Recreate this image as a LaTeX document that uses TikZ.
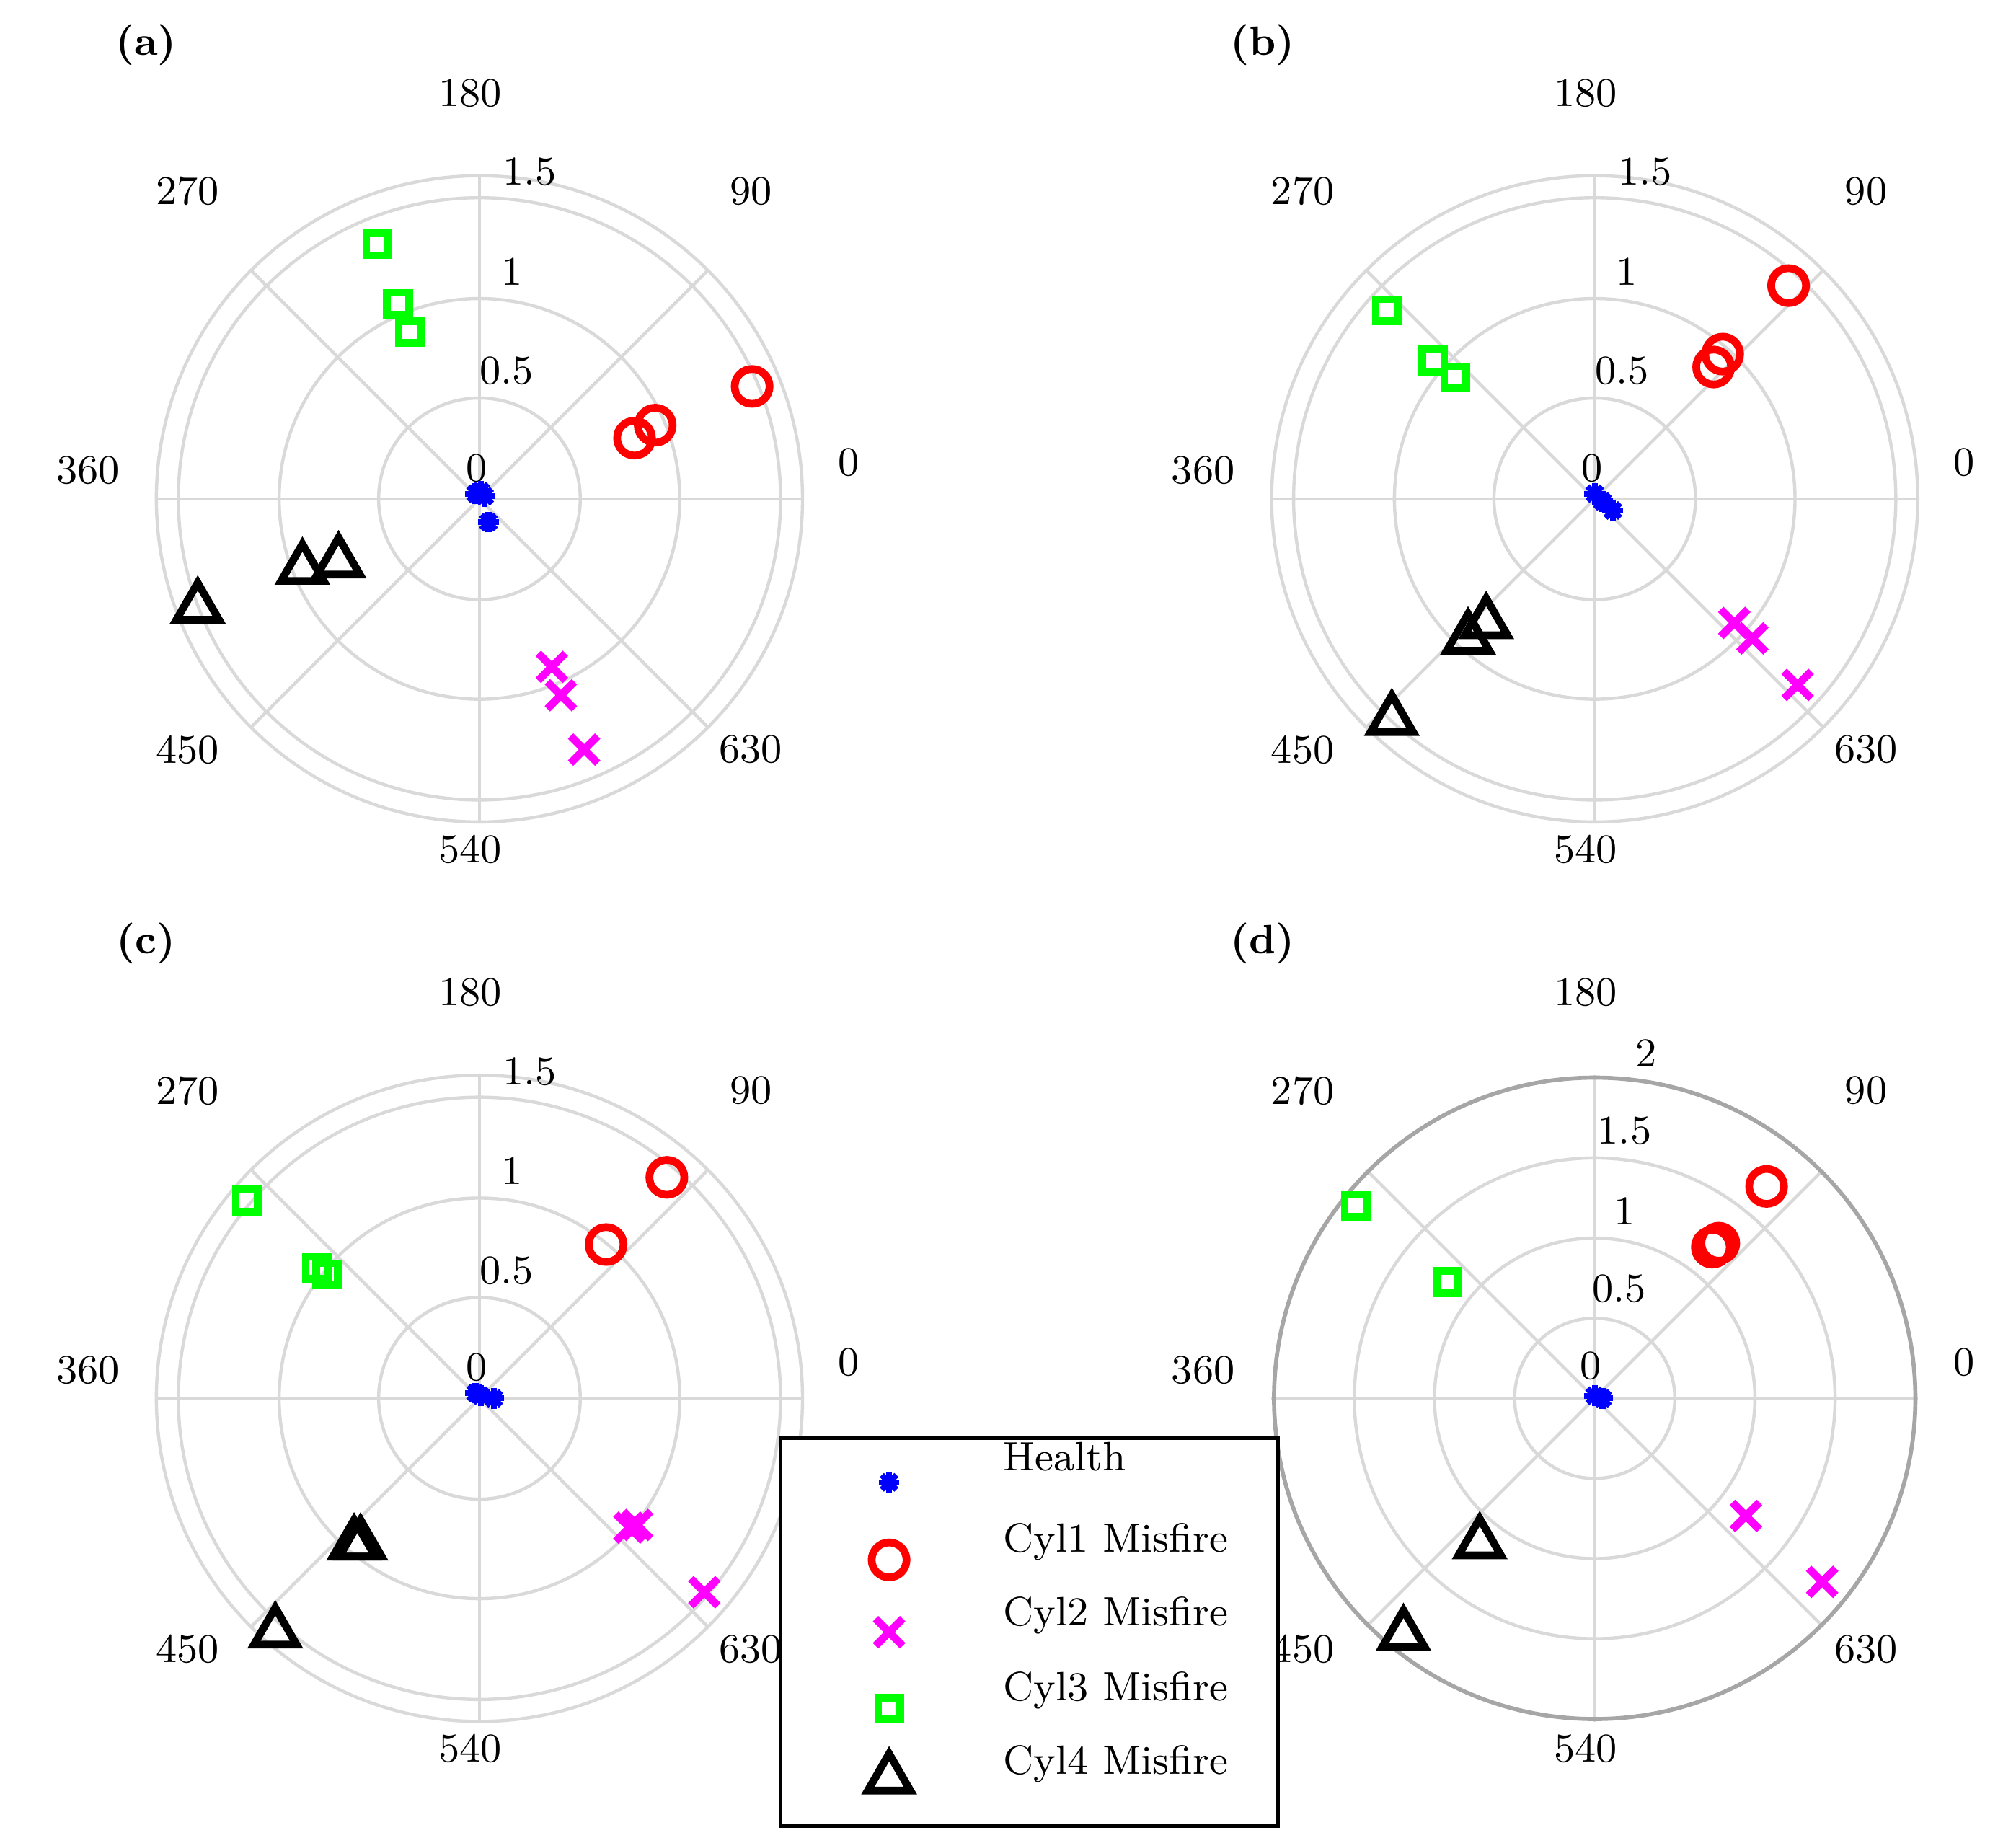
\documentclass[tikz,border=0pt]{standalone}
\usepackage{tikz}
\usetikzlibrary{shapes.geometric,shapes.misc}
\definecolor{cgreen}{RGB}{0,255,0}
\definecolor{cmag}{RGB}{255,0,255}
\definecolor{cblue}{RGB}{0,0,255}
\definecolor{cred}{RGB}{255,0,0}
\tikzset{
  ring/.style={black!15, line width=0.7pt},
  mk/.style={inner sep=0pt, line width=1.7pt},
  cyla/.style={mk, circle, draw=cred, minimum size=0.27cm},
  cylb/.style={mk, cross out, draw=cmag, minimum size=0.15cm},
  cylc/.style={mk, rectangle, draw=cgreen, minimum size=0.17cm},
  cyld/.style={mk, regular polygon, regular polygon sides=3, draw=black, minimum size=0.38cm},
  lbl/.style={font=\fontsize{9}{11}\selectfont},
  pics/hst/.style={code={
    \foreach \a in {0,45,90,135}
      \draw[cblue, line width=1.3pt] (\a:0.08cm) -- (\a+180:0.08cm);}}
}
% axes of one polar panel: #1 = ring radii, #2 = ring labels
\newcommand\polaraxes[2]{
  \foreach \r in {#1} \draw[ring] (0,0) circle ({\r*0.01cm});
  \foreach \a in {0,45,90,135} \draw[ring] (\a:2.5cm) -- (\a+180:2.5cm);
  \foreach \t/\dx/\dy in {180/-7/-314, 90/210/-238, 0/286/-28, 630/210/194,
      540/-7/271, 450/-226/194, 360/-303/-22, 270/-226/-238}
    \node[lbl] (ang\t) at (\dx,\dy) {\t};
  \foreach \t/\dx/\dy [count=\i] in {#2}
    \node[lbl] (rl\i) at (\dx,\dy) {\t};
}
\begin{document}
\begin{tikzpicture}[x=0.01cm, y=-0.01cm]
\path[use as bounding box, fill=white] (0,0) rectangle (1560,1422);

% (a)
\node[lbl, font=\bfseries\fontsize{9}{11}\selectfont] (pa) at (113,35) {(a)};
\begin{scope}[shift={(371,386)}]
  \polaraxes{78,155,233,250}{0/-2/-24, 0.5/21/-99, 1/25/-176, 1.5/39/-253}
  \foreach \x/\y in {1/-6, 4/-2, 7/18, -3/-4} \pic at (\x,\y) {hst};
  \foreach \x/\y [count=\i] in {211/-87, 136/-57, 120/-47} \node[cyla] (a1\i) at (\x,\y) {};
  \foreach \x/\y [count=\i] in {56/130, 63/152, 81/194} \node[cylb] (a2\i) at (\x,\y) {};
  \foreach \x/\y [count=\i] in {-79/-197, -63/-151, -54/-129} \node[cylc] (a3\i) at (\x,\y) {};
  \foreach \x/\y [count=\i] in {-218/84, -137/54, -109/49} \node[cyld] (a4\i) at (\x,\y) {};
\end{scope}

% (b)
\node[lbl, font=\bfseries\fontsize{9}{11}\selectfont] (pb) at (977,35) {(b)};
\begin{scope}[shift={(1234,386)}]
  \polaraxes{78,155,233,250}{0/-2/-24, 0.5/21/-99, 1/25/-176, 1.5/39/-253}
  \foreach \x/\y in {0/-4, 14/9, 6/2} \pic at (\x,\y) {hst};
  \foreach \x/\y [count=\i] in {150/-165, 99/-112, 92/-102} \node[cyla] (b1\i) at (\x,\y) {};
  \foreach \x/\y [count=\i] in {108/96, 122/108, 157/144} \node[cylb] (b2\i) at (\x,\y) {};
  \foreach \x/\y [count=\i] in {-161/-146, -125/-107, -108/-94} \node[cylc] (b3\i) at (\x,\y) {};
  \foreach \x/\y [count=\i] in {-157/171, -98/108, -84/96} \node[cyld] (b4\i) at (\x,\y) {};
\end{scope}

% (c)
\node[lbl, font=\bfseries\fontsize{9}{11}\selectfont] (pc) at (113,730) {(c)};
\begin{scope}[shift={(371,1082)}]
  \polaraxes{78,155,233,250}{0/-2/-24, 0.5/21/-99, 1/25/-176, 1.5/39/-253}
  \foreach \x/\y in {1/-2, 11/0, -3/-4} \pic at (\x,\y) {hst};
  \foreach \x/\y [count=\i] in {145/-171, 98/-119} \node[cyla] (c1\i) at (\x,\y) {};
  \foreach \x/\y [count=\i] in {116/100, 122/98, 174/150} \node[cylb] (c2\i) at (\x,\y) {};
  \foreach \x/\y [count=\i] in {-180/-153, -126/-101, -118/-96} \node[cylc] (c3\i) at (\x,\y) {};
  \foreach \x/\y [count=\i] in {-158/181, -97/113, -92/113} \node[cyld] (c4\i) at (\x,\y) {};
\end{scope}

% (d)
\node[lbl, font=\bfseries\fontsize{9}{11}\selectfont] (pd) at (977,730) {(d)};
\begin{scope}[shift={(1234,1082)}]
  \polaraxes{62,124,186}{0/-3/-25, 0.5/19/-85, 1/23/-145, 1.5/23/-207, 2/40/-267}
  \draw[black!35, line width=0.9pt] (0,0) circle (2.48cm);
  \foreach \x/\y in {0/-2, 6/0} \pic at (\x,\y) {hst};
  \foreach \x/\y [count=\i] in {133/-164, 91/-117, 96/-120} \node[cyla] (d1\i) at (\x,\y) {};
  \foreach \x/\y [count=\i] in {117/91, 176/142} \node[cylb] (d2\i) at (\x,\y) {};
  \foreach \x/\y [count=\i] in {-185/-149, -114/-90} \node[cylc] (d3\i) at (\x,\y) {};
  \foreach \x/\y [count=\i] in {-148/183, -89/112} \node[cyld] (d4\i) at (\x,\y) {};
\end{scope}

% legend
\draw[fill=white, line width=0.8pt] (604,1113) rectangle (989,1413);
\pic at (688,1147) {hst};
\node[cyla] (lg1) at (688,1207) {};
\node[cylb] (lg2) at (688,1263) {};
\node[cylc] (lg3) at (688,1322) {};
\node[cyld] (lg4) at (688,1376) {};
\foreach \t/\y [count=\i] in {Health/1127, Cyl1 Misfire/1193, Cyl2 Misfire/1250,
    Cyl3 Misfire/1308, Cyl4 Misfire/1365}
  \node[lbl, anchor=west] (lt\i) at (764,\y) {\t};
\end{tikzpicture}
\end{document}
